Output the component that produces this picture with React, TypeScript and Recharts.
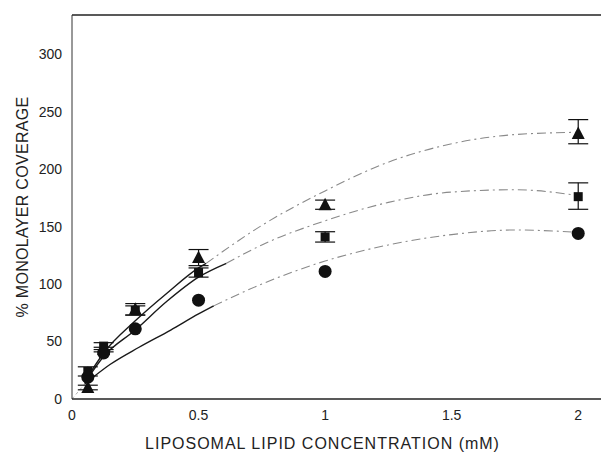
import React from "react";
import {
  ComposedChart,
  Line,
  Scatter,
  ErrorBar,
  XAxis,
  YAxis,
  Label,
  ReferenceLine,
} from "recharts";

// lipid concentration (mM) at which coverage was measured
const CONC = [0.0625, 0.125, 0.25, 0.5, 1.0, 2.0];

const TRIANGLE = [10, 43, 78, 123, 169, 231];
const TRIANGLE_ERR: [number, number][] = [[2, 2], [2, 2], [5, 5], [7, 7], [4, 4], [9, 12]];
const SQUARE = [24, 46, 77, 110, 141, 176];
const SQUARE_ERR: [number, number][] = [[4, 4], [3, 3], [4, 4], [4, 4], [4.5, 4.5], [11, 12]];
const CIRCLE = [19, 40, 61, 86, 111, 144];

// fitted curves: solid near the origin, dash-dot further out
const FIT_X_SOLID = [0.05, 0.125, 0.25, 0.375, 0.5, 0.53];
const FIT_TOP_SOLID = [15, 40, 68, 92, 114, 118];
const FIT_MID_X_SOLID = [0.05, 0.125, 0.25, 0.375, 0.5, 0.61];
const FIT_MID_SOLID = [14, 37, 60, 85, 106, 118];
const FIT_LOW_X_SOLID = [0.05, 0.15, 0.265, 0.39, 0.5, 0.56];
const FIT_LOW_SOLID = [13, 30, 45, 60, 74, 81];

const FIT_X_DASH = [0.53, 0.75, 1.0, 1.25, 1.5, 1.75, 2.0];
const FIT_TOP_DASH = [118, 151, 181, 206, 222, 230, 232];
const FIT_MID_X_DASH = [0.61, 0.75, 1.0, 1.25, 1.5, 1.75, 2.0];
const FIT_MID_DASH = [118, 134, 155, 171, 180, 182, 177];
const FIT_LOW_X_DASH = [0.56, 0.75, 1.0, 1.25, 1.5, 1.75, 2.0];
const FIT_LOW_DASH = [81, 100, 120, 134, 143, 147, 145];

const ORIGIN_X = [0, 0.05];
const ORIGIN_Y = [0, 13];

const X_TICKS = [0, 0.5, 1, 1.5, 2];
const Y_TICKS = [0, 50, 100, 150, 200, 250, 300];

const pts = (xs: number[], ys: number[]) => xs.map((x, i) => ({ x, y: ys[i] }));
const withErr = (ys: number[], errs?: [number, number][]) =>
  CONC.map((x, i) => ({ x, y: ys[i], err: errs ? errs[i] : [0, 0] }));

const INK = "#111";
const FONT = "'Liberation Sans', Arial, sans-serif";

const Tri = (p: any) => (
  <polygon
    points={`${p.cx},${p.cy - 7} ${p.cx - 6.5},${p.cy + 5.5} ${p.cx + 6.5},${p.cy + 5.5}`}
    fill={INK}
  />
);
const Sq = (p: any) => <rect x={p.cx - 4.5} y={p.cy - 4.5} width={9} height={9} fill={INK} />;
const Dot = (p: any) => <circle cx={p.cx} cy={p.cy} r={6.5} fill={INK} />;

const YLabel = ({ viewBox }: any) => {
  const x = viewBox.x + 22;
  const y = viewBox.y + viewBox.height / 2;
  return (
    <text
      x={x}
      y={y}
      transform={`rotate(-90, ${x}, ${y})`}
      textAnchor="middle"
      dominantBaseline="central"
      fontSize={16}
      fill="#222"
      letterSpacing={0.3}
    >
      % MONOLAYER COVERAGE
    </text>
  );
};

const solid = { stroke: "#1a1a1a", strokeWidth: 1.4 };
const dashed = { stroke: "#8a8a8a", strokeWidth: 1.1, strokeDasharray: "9 4 2 4" };

export default function App() {
  return (
    <div style={{ position: "absolute", left: 0, top: 0, width: 601, height: 461, background: "#fff" }}>
      <ComposedChart
        width={601}
        height={461}
        margin={{ top: 15, right: 0, bottom: 0, left: 0 }}
        style={{ fontFamily: FONT }}
      >
        <XAxis
          type="number"
          dataKey="x"
          domain={[0, 2.09]}
          ticks={X_TICKS}
          allowDataOverflow
          height={62}
          tickSize={0}
          tickMargin={11}
          tick={{ fontSize: 14, fill: "#222" }}
          tickFormatter={(v: number) => String(v)}
          axisLine={{ stroke: "#222", strokeWidth: 1.6 }}
          label={{
            value: "LIPOSOMAL LIPID CONCENTRATION (mM)",
            position: "insideBottom",
            offset: 12,
            dx: -14,
            style: { fontSize: 16, fill: "#222", letterSpacing: 1 },
          }}
        />
        <YAxis
          type="number"
          dataKey="y"
          domain={[0, 334]}
          ticks={Y_TICKS}
          allowDataOverflow
          width={72}
          tickSize={0}
          tickMargin={10}
          tick={{ fontSize: 14, fill: "#222" }}
          axisLine={{ stroke: "#333", strokeWidth: 1 }}
        >
          <Label content={YLabel} />
        </YAxis>
        <ReferenceLine y={334} stroke="#222" strokeWidth={1.6} />

        <Line data={pts(ORIGIN_X, ORIGIN_Y)} dataKey="y" type="linear" dot={false} isAnimationActive={false} stroke="#999" strokeWidth={0.8} strokeDasharray="3 3" />

        <Line data={pts(FIT_X_SOLID, FIT_TOP_SOLID)} dataKey="y" type="monotone" dot={false} isAnimationActive={false} {...solid} />
        <Line data={pts(FIT_MID_X_SOLID, FIT_MID_SOLID)} dataKey="y" type="monotone" dot={false} isAnimationActive={false} {...solid} />
        <Line data={pts(FIT_LOW_X_SOLID, FIT_LOW_SOLID)} dataKey="y" type="monotone" dot={false} isAnimationActive={false} {...solid} />

        <Line data={pts(FIT_X_DASH, FIT_TOP_DASH)} dataKey="y" type="monotone" dot={false} isAnimationActive={false} {...dashed} />
        <Line data={pts(FIT_MID_X_DASH, FIT_MID_DASH)} dataKey="y" type="monotone" dot={false} isAnimationActive={false} {...dashed} />
        <Line data={pts(FIT_LOW_X_DASH, FIT_LOW_DASH)} dataKey="y" type="monotone" dot={false} isAnimationActive={false} {...dashed} />

        <Scatter data={withErr(CIRCLE)} dataKey="y" shape={Dot} isAnimationActive={false} />
        <Scatter data={withErr(SQUARE, SQUARE_ERR)} dataKey="y" shape={Sq} isAnimationActive={false}>
          <ErrorBar dataKey="err" direction="y" width={10} stroke={INK} strokeWidth={1.2} />
        </Scatter>
        <Scatter data={withErr(TRIANGLE, TRIANGLE_ERR)} dataKey="y" shape={Tri} isAnimationActive={false}>
          <ErrorBar dataKey="err" direction="y" width={10} stroke={INK} strokeWidth={1.2} />
        </Scatter>
      </ComposedChart>
    </div>
  );
}
